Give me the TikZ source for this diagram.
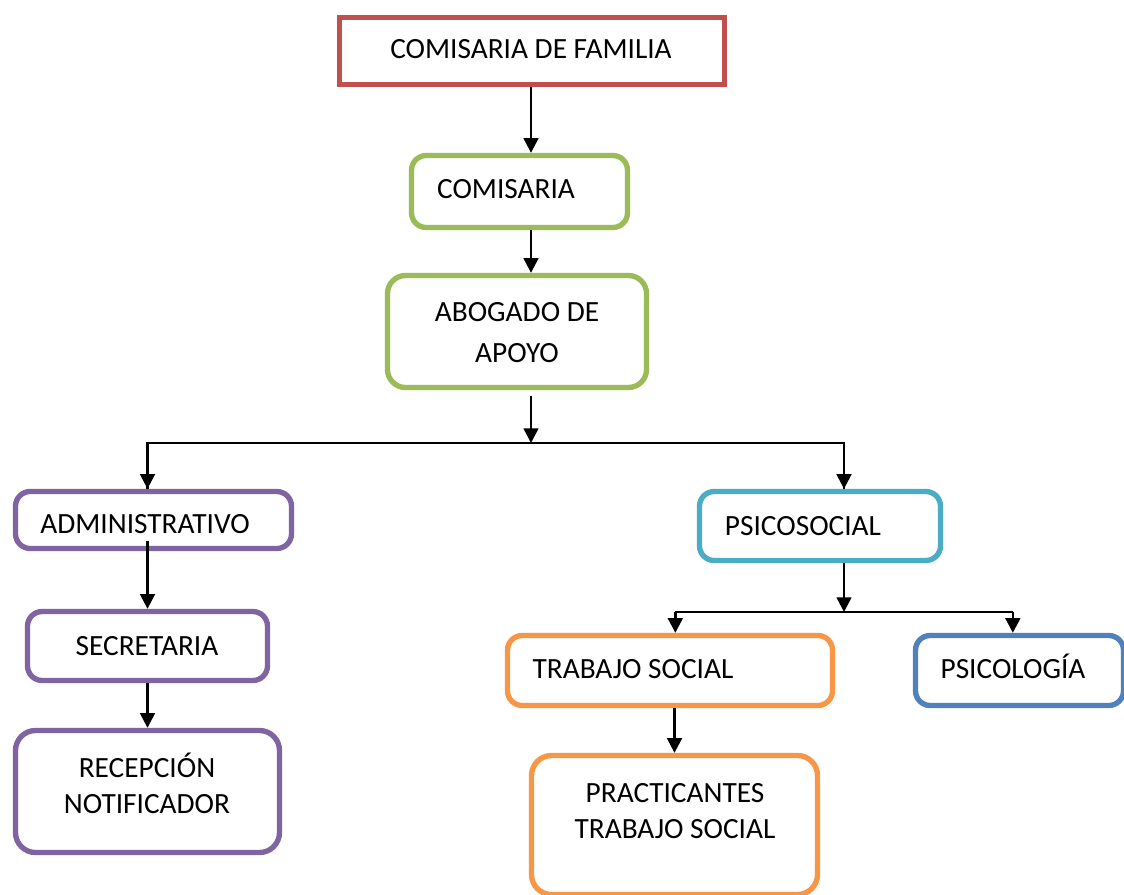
\documentclass[tikz,border=0pt]{standalone}
\usepackage{fontspec}
\setmainfont{Carlito}
\usetikzlibrary{arrows.meta}
\definecolor{famred}{HTML}{C0504D}
\definecolor{leafgreen}{HTML}{9BBB59}
\definecolor{admpurple}{HTML}{8064A2}
\definecolor{psicyan}{HTML}{4BACC6}
\definecolor{psiblue}{HTML}{4F81BD}
\definecolor{tsorange}{HTML}{F79646}
\begin{document}
\begin{tikzpicture}[x=0.75pt,y=-0.75pt]
\tikzstyle{every node}+=[inner sep=0pt]
\tikzstyle{box}=[draw, line width=4pt, fill=white, rounded corners=11pt]
\tikzstyle{lbl}=[font=\fontsize{22}{27}\selectfont, align=center, anchor=base]
\tikzstyle{link}=[black, line width=1.9pt]
\tikzstyle{conn}=[link, -{Triangle[width=11pt,length=11pt]}]
\useasboundingbox (0,0) rectangle (1124,895);
\clip (0,0) rectangle (1124,895);
\fill [white] (0,0) rectangle (1124,895);
% boxes
\node [box, rounded corners=0pt, draw=famred, minimum width=288.75pt, minimum height=50.25pt] (fam) at (532,51) {};
\node [box, draw=leafgreen, minimum width=162pt, minimum height=54pt] (com) at (519.5,191.5) {};
\node [box, draw=leafgreen, rounded corners=13.5pt, minimum width=194.25pt, minimum height=84pt] (abo) at (517,331.5) {};
\node [box, draw=admpurple, minimum width=207pt, minimum height=42.75pt] (adm) at (153.5,520) {};
\node [box, draw=psicyan, minimum width=180.75pt, minimum height=51.75pt] (psi) at (820,526) {};
\node [box, draw=admpurple, minimum width=180pt, minimum height=51.75pt] (sec) at (147.5,646) {};
\node [box, draw=admpurple, rounded corners=15pt, minimum width=198pt, minimum height=91.5pt] (rec) at (147.5,791.5) {};
\node [box, draw=tsorange, minimum width=243.75pt, minimum height=52.5pt] (ts) at (670,670.5) {};
\node [box, draw=psiblue, minimum width=156pt, minimum height=52.5pt] (pso) at (1019.5,670.5) {};
\node [box, draw=tsorange, rounded corners=15pt, minimum width=214.5pt, minimum height=104.25pt] (pra) at (674.5,825) {};
% texts (multi-line ones sit on their last baseline)
\node [lbl] (fam-t) at (531,59) {COMISARIA DE FAMILIA};
\node [lbl] (com-t) at (506,199) {COMISARIA};
\node [lbl] (abo-t) at (517,362) {ABOGADO DE\\[3.75pt] APOYO};
\node [lbl] (adm-t) at (145,533) {ADMINISTRATIVO};
\node [lbl] (psi-t) at (803,535) {PSICOSOCIAL};
\node [lbl] (sec-t) at (147,655) {SECRETARIA};
\node [lbl] (rec-t) at (147,813) {RECEPCIÓN\\ NOTIFICADOR};
\node [lbl] (ts-t) at (633,678) {TRABAJO SOCIAL};
\node [lbl] (pso-t) at (1013,678) {PSICOLOGÍA};
\node [lbl] (pra-t) at (675,838) {PRACTICANTES\\ TRABAJO SOCIAL};
% connectors
\coordinate (split1) at (531,443);
\coordinate (split2) at (844,612);
\draw [conn] (fam.south -| split1) -- (com.north -| split1);
\draw [conn] (com.south -| split1) -- (abo.north -| split1);
\draw [conn, shorten <=4pt] (abo.south -| split1) -- (split1);
\draw [link] (split1) -| ([xshift=-4.5pt]adm.north);
\draw [conn] ([xshift=-4.5pt]adm.north |- split1) -- ([xshift=-4.5pt]adm.north);
\draw [link] (split1) -| ([xshift=18pt]psi.north);
\draw [conn] ([xshift=18pt]psi.north |- split1) -- ([xshift=18pt]psi.north);
\draw [conn] ([xshift=-4.5pt,yshift=8pt]adm.south) -- (sec.north);
\draw [conn] (sec.south) -- (rec.north);
\draw [conn] ([xshift=18pt]psi.south) -- (split2);
\draw [link] ([xshift=4pt]ts.north |- split2) -- ([xshift=-5pt]pso.north |- split2);
\draw [conn] ([xshift=4pt]ts.north |- split2) -- ([xshift=4pt]ts.north);
\draw [conn] ([xshift=-5pt]pso.north |- split2) -- ([xshift=-5pt]pso.north);
\draw [conn] (pra.north |- ts.south) -- (pra.north);
\end{tikzpicture}
\end{document}
